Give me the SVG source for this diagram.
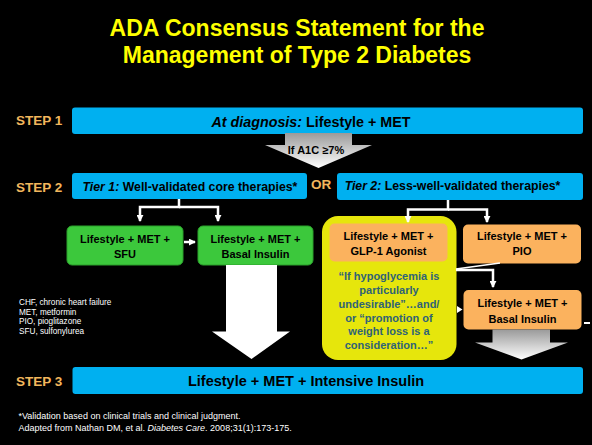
<svg xmlns="http://www.w3.org/2000/svg" width="592" height="445" viewBox="0 0 592 445">
<defs>
<style>
text{font-family:"Liberation Sans",Arial,sans-serif;}
.title{font-size:23px;font-weight:bold;fill:#ffff00;text-anchor:middle;}
.step{font-size:13.5px;font-weight:bold;fill:#f2b65c;}
.bar{fill:#00b0f0;}
.bt{font-weight:bold;fill:#000;text-anchor:middle;}
.green{fill:#3cc83c;stroke:#2ba02b;stroke-width:1;}
.orange{fill:#fbb25e;}
.nt{font-size:11px;font-weight:bold;fill:#000;text-anchor:middle;}
.yt{font-size:11px;font-weight:bold;fill:#2f6377;text-anchor:middle;}
.conn{fill:none;stroke:#fff;stroke-width:2.5;}
.note{font-size:8.2px;fill:#fff;}
.foot{font-size:9px;fill:#fff;}
</style>
<linearGradient id="gray" x1="0" y1="0" x2="0" y2="1">
<stop offset="0" stop-color="#9a9a9a"/>
<stop offset="1" stop-color="#ffffff"/>
</linearGradient>
<marker id="ah" viewBox="0 0 8 8" refX="7" refY="4" markerWidth="7" markerHeight="7" markerUnits="userSpaceOnUse" orient="auto">
<path d="M0,0 L8,4 L0,8 z" fill="#fff"/>
</marker>
</defs>
<rect x="0" y="0" width="592" height="445" fill="#000"/>

<g id="title">
<text class="title" x="297" y="36">ADA Consensus Statement for the</text>
<text class="title" x="297" y="63">Management of Type 2 Diabetes</text>
</g>

<g id="labels">
<text class="step" x="16" y="125">STEP 1</text>
<text class="step" x="16" y="192">STEP 2</text>
<text class="step" x="16" y="386">STEP 3</text>
<text class="step" x="311" y="189">OR</text>
</g>

<g id="step1">
<rect class="bar" x="72" y="107.5" width="511" height="26.5" rx="3"/>
<text class="bt" x="311" y="126.5" font-size="14.3"><tspan font-style="italic">At diagnosis:</tspan> Lifestyle + MET</text>
</g>

<g id="arrow-a1c">
<polygon points="285,133 352,133 352,145 372,145 318.5,168 265,145 285,145" fill="url(#gray)"/>
<text class="bt" x="316" y="154" font-size="11">If A1C ≥7%</text>
</g>

<g id="tier1">
<rect class="bar" x="72" y="173" width="235" height="26" rx="3"/>
<text class="bt" x="190" y="191" font-size="12.3"><tspan font-style="italic">Tier 1:</tspan> Well-validated core therapies*</text>
</g>

<g id="tier2">
<rect class="bar" x="337" y="173" width="246" height="27" rx="3"/>
<text class="bt" x="452.5" y="189.5" font-size="12.3"><tspan font-style="italic">Tier 2:</tspan> Less-well-validated therapies*</text>
</g>

<g id="sfu">
<rect class="green" x="67" y="226" width="116" height="39" rx="5"/>
<text class="nt" x="125" y="242.5">Lifestyle + MET +</text>
<text class="nt" x="125" y="257.5">SFU</text>
</g>

<g id="basal1">
<rect class="green" x="198" y="226" width="115" height="39" rx="5"/>
<text class="nt" x="255.5" y="242.5">Lifestyle + MET +</text>
<text class="nt" x="255.5" y="257.5">Basal Insulin</text>
</g>

<g id="glp1">
<rect x="322" y="216" width="134.5" height="144" rx="16" fill="#e6e60c"/>
<rect class="orange" x="329.5" y="223.5" width="118" height="38" rx="5"/>
<text class="nt" x="388.5" y="240">Lifestyle + MET +</text>
<text class="nt" x="388.5" y="255">GLP-1 Agonist</text>
<text class="yt" x="389" y="280">“If hypoglycemia is</text>
<text class="yt" x="389" y="294">particularly</text>
<text class="yt" x="389" y="307.5">undesirable”…and/</text>
<text class="yt" x="389" y="321.5">or “promotion of</text>
<text class="yt" x="389" y="335">weight loss is a</text>
<text class="yt" x="389" y="348.5">consideration…”</text>
</g>

<g id="pio">
<rect class="orange" x="463" y="224.5" width="118" height="39" rx="5"/>
<text class="nt" x="522" y="240">Lifestyle + MET +</text>
<text class="nt" x="522" y="255">PIO</text>
</g>

<g id="basal2">
<rect class="orange" x="463.5" y="290" width="118" height="39.5" rx="5"/>
<text class="nt" x="522.5" y="306.5">Lifestyle + MET +</text>
<text class="nt" x="522.5" y="322.5">Basal Insulin</text>
</g>

<g id="step3">
<rect class="bar" x="72.5" y="367" width="510.5" height="27" rx="3"/>
<text class="bt" x="306" y="386" font-size="14.5">Lifestyle + MET + Intensive Insulin</text>
</g>

<g id="connectors">
<path class="conn" d="M179,199 V207 H140 V221" marker-end="url(#ah)"/>
<path class="conn" d="M179,207 H218 V221" marker-end="url(#ah)"/>
<path class="conn" d="M448,200 V209.5 H408 V222" marker-end="url(#ah)"/>
<path class="conn" d="M448,209.5 H487 V222" marker-end="url(#ah)"/>
<path class="conn" d="M184,242 H195" marker-end="url(#ah)"/>
<path class="conn" d="M456,270 H493 V287" marker-end="url(#ah)"/>
<path d="M456,269 L500,263" stroke="#fff" stroke-width="1.5" fill="none"/>
<polygon points="457,306 462.5,309.5 457,313" fill="#fff"/>
<line x1="584" y1="323" x2="590" y2="323" stroke="#fff" stroke-width="2"/>
<polygon points="226,265 277,265 277,331.5 290,331.5 251.5,359 212,331.5 226,331.5" fill="#fff"/>
<polygon points="492.5,329.5 550,329.5 550,342.5 568,342.5 521.5,359.5 475,342.5 492.5,342.5" fill="url(#gray)"/>
</g>

<g id="notes">
<text class="note" x="19" y="305">CHF, chronic heart failure</text>
<text class="note" x="19" y="314.5">MET, metformin</text>
<text class="note" x="19" y="324">PIO, pioglitazone</text>
<text class="note" x="19" y="333.5">SFU, sulfonylurea</text>
<text class="foot" x="18.5" y="419">*Validation based on clinical trials and clinical judgment.</text>
<text class="foot" x="18.5" y="430.5">Adapted from Nathan DM, et al. <tspan font-style="italic">Diabetes Care</tspan>. 2008;31(1):173-175.</text>
</g>
</svg>
